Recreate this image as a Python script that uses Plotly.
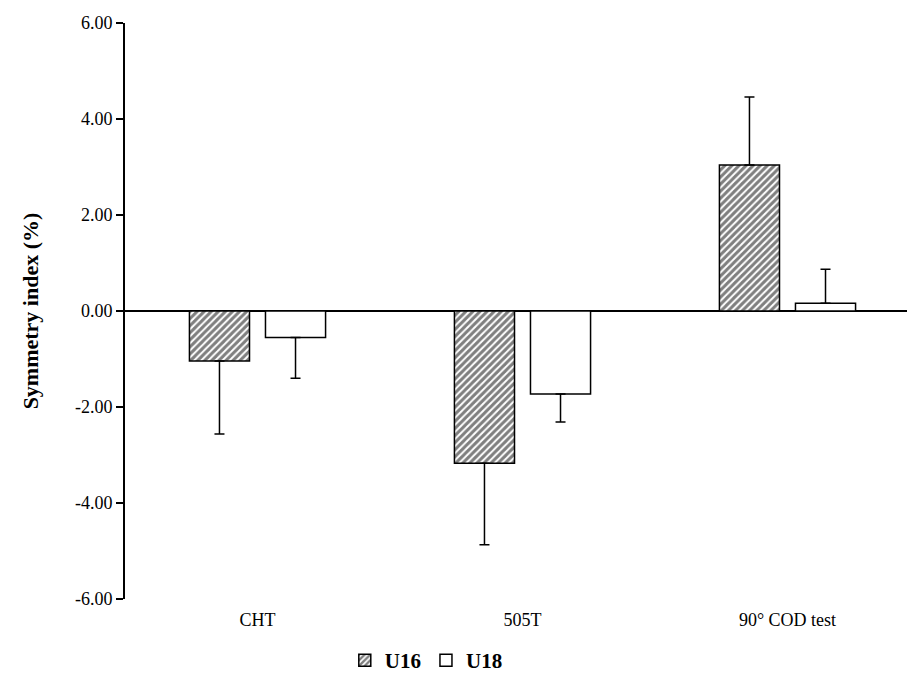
import plotly.graph_objects as go

categories = ["CHT", "505T", "90° COD test"]
u16_mean = [-1.04, -3.17, 3.04]
u16_sd = [1.52, 1.70, 1.42]
u18_mean = [-0.55, -1.73, 0.16]
u18_sd = [0.85, 0.58, 0.71]
ytick_vals = [-6, -4, -2, 0, 2, 4, 6]
ytick_text = ["-6.00", "-4.00", "-2.00", "0.00", "2.00", "4.00", "6.00"]


def one_sided(means, sds):
    plus = [s if m >= 0 else 0 for m, s in zip(means, sds)]
    minus = [s if m < 0 else 0 for m, s in zip(means, sds)]
    return plus, minus


p16, m16 = one_sided(u16_mean, u16_sd)
p18, m18 = one_sided(u18_mean, u18_sd)

err_style = dict(type="data", symmetric=False, color="black", thickness=1.5, width=5)

fig = go.Figure()
fig.add_trace(go.Bar(
    name="U16", x=categories, y=u16_mean,
    marker=dict(color="white", line=dict(color="black", width=1.5),
                pattern=dict(shape="/", fgcolor="black", bgcolor="white", size=5, solidity=0.6)),
    error_y=dict(array=p16, arrayminus=m16, **err_style),
))
fig.add_trace(go.Bar(
    name="U18", x=categories, y=u18_mean,
    marker=dict(color="white", line=dict(color="black", width=1.5)),
    error_y=dict(array=p18, arrayminus=m18, **err_style),
))

serif = "Liberation Serif, Times New Roman, serif"
fig.update_layout(
    width=907, height=681,
    margin=dict(l=125, r=0, t=23, b=82, autoexpand=False),
    plot_bgcolor="white", paper_bgcolor="white",
    barmode="group", bargap=0.426, bargroupgap=0.21,
    font=dict(family=serif, color="black", size=18),
    showlegend=True,
    legend=dict(orientation="h", x=0.47, xref="container", xanchor="center",
                y=0.0, yref="container", yanchor="bottom",
                font=dict(family=serif, size=21, color="black", weight="bold"),
                itemwidth=30, traceorder="normal"),
    xaxis=dict(range=[-0.5, 2.451], showline=False, showgrid=False, zeroline=False,
               ticks="", tickfont=dict(family=serif, size=18), ticklabelstandoff=8,
               automargin=False),
    yaxis=dict(range=[-6, 6], tickvals=ytick_vals, ticktext=ytick_text,
               showline=True, linecolor="black", linewidth=2,
               ticks="outside", ticklen=7, tickwidth=1.5, tickcolor="black",
               showgrid=False, zeroline=True, zerolinecolor="black", zerolinewidth=2,
               tickfont=dict(family=serif, size=18), automargin=False,
               title=dict(text="<b>Symmetry index (%)</b>", font=dict(family=serif, size=22), standoff=30)),
)
fig.write_html("out.html", config={"displayModeBar": False},
               post_script="document.body.style.margin='0';document.body.style.overflow='hidden';")
